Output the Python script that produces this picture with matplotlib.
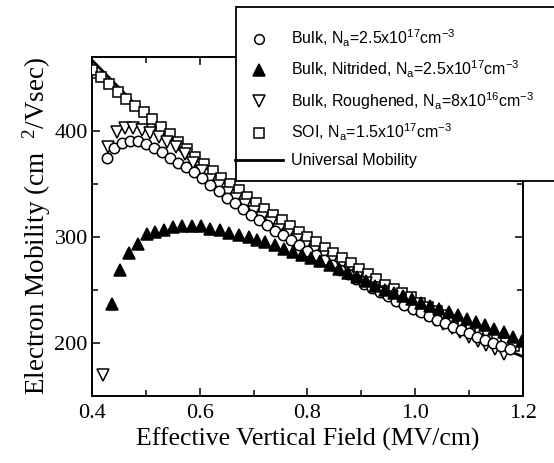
import matplotlib
matplotlib.use("Agg")
import matplotlib.pyplot as plt
from matplotlib.lines import Line2D
from matplotlib.patches import Rectangle

# ---------------- data ----------------
univ_x = [0.40, 0.50, 0.60, 0.70, 0.80, 0.90, 1.00, 1.10, 1.20]
univ_y = [467, 415, 363, 325, 292, 260, 232, 208, 187]

soi_x = [0.400, 0.416, 0.432, 0.448, 0.464, 0.480, 0.496, 0.512, 0.528, 0.544,
         0.560, 0.576, 0.592, 0.608, 0.624, 0.640, 0.656, 0.672, 0.688, 0.704,
         0.720, 0.736, 0.752, 0.768, 0.784, 0.800, 0.816, 0.832, 0.848, 0.864,
         0.880, 0.896, 0.912, 0.928, 0.944, 0.960, 0.976, 0.992, 1.008, 1.024,
         1.040, 1.056, 1.072, 1.088, 1.104, 1.120, 1.136, 1.152, 1.168, 1.184]
soi_y = [458, 451, 444, 437, 430, 424, 418, 411, 404, 397,
         390, 383, 376, 369, 362, 356, 350, 344, 338, 332,
         326, 321, 316, 310, 305, 300, 295, 290, 285, 280,
         275, 270, 265, 260, 255, 251, 247, 243, 238, 234,
         230, 226, 222, 218, 214, 211, 207, 204, 200, 197]

bulk_x = [0.427, 0.441, 0.455, 0.470, 0.485, 0.500, 0.515, 0.530, 0.545, 0.560,
          0.575, 0.590, 0.605, 0.620, 0.635, 0.650, 0.665, 0.680, 0.695, 0.710,
          0.725, 0.740, 0.755, 0.770, 0.785, 0.800, 0.815, 0.830, 0.845, 0.860,
          0.875, 0.890, 0.905, 0.920, 0.935, 0.950, 0.965, 0.980, 0.995, 1.010,
          1.025, 1.040, 1.055, 1.070, 1.085, 1.100, 1.115, 1.130, 1.145, 1.160,
          1.175]
bulk_y = [375, 384, 389, 391, 391, 388, 384, 380, 375, 370,
          366, 361, 356, 349, 343, 337, 332, 326, 321, 316,
          311, 306, 302, 297, 292, 287, 283, 278, 274, 269,
          265, 260, 256, 252, 248, 244, 240, 236, 232, 229,
          225, 222, 219, 215, 212, 209, 206, 203, 200, 197,
          194]

nit_x = [0.437, 0.452, 0.468, 0.485, 0.502, 0.517, 0.534, 0.551, 0.568, 0.585,
         0.603, 0.620, 0.638, 0.655, 0.672, 0.691, 0.706, 0.722, 0.739, 0.756,
         0.773, 0.790, 0.807, 0.824, 0.841, 0.858, 0.875, 0.892, 0.909, 0.926,
         0.943, 0.960, 0.977, 0.994, 1.011, 1.028, 1.045, 1.062, 1.079, 1.096,
         1.113, 1.130, 1.147, 1.164, 1.181, 1.198]
nit_y = [237, 269, 285, 293, 303, 305, 307, 309, 310, 310,
         310, 308, 307, 304, 302, 300, 297, 295, 292, 289,
         286, 283, 280, 277, 274, 270, 266, 262, 258, 254,
         250, 247, 244, 241, 238, 235, 232, 229, 226, 223,
         220, 217, 213, 210, 206, 202]

rough_x = [0.421, 0.430, 0.446, 0.461, 0.477, 0.492, 0.508, 0.524, 0.540, 0.556,
           0.572, 0.588, 0.604, 0.620, 0.636, 0.652, 0.668, 0.684, 0.700, 0.716,
           0.732, 0.748, 0.764, 0.780, 0.796, 0.812, 0.828, 0.844, 0.860, 0.876,
           0.892, 0.908, 0.924, 0.940, 0.956, 0.972, 0.988, 1.004, 1.020, 1.036,
           1.052, 1.068, 1.084, 1.100, 1.116, 1.132, 1.148, 1.164]
rough_y = [170, 385, 399, 403, 403, 401, 398, 394, 390, 385,
           378, 370, 362, 354, 348, 342, 336, 330, 324, 318,
           313, 307, 302, 297, 291, 286, 281, 276, 271, 266,
           261, 257, 252, 248, 243, 239, 235, 231, 226, 222,
           218, 214, 210, 206, 202, 198, 194, 190]

labels = [r"Bulk, N$_\mathregular{a}$=2.5x10$^\mathregular{17}$cm$^\mathregular{-3}$",
          r"Bulk, Nitrided, N$_\mathregular{a}$=2.5x10$^\mathregular{17}$cm$^\mathregular{-3}$",
          r"Bulk, Roughened, N$_\mathregular{a}$=8x10$^\mathregular{16}$cm$^\mathregular{-3}$",
          r"SOI, N$_\mathregular{a}$=1.5x10$^\mathregular{17}$cm$^\mathregular{-3}$",
          "Universal Mobility"]
x_ticks = [0.4, 0.6, 0.8, 1.0, 1.2]
x_ticklabels = ["0.4", "0.6", "0.8", "1.0", "1.2"]
y_ticks = [200, 300, 400]

# ---------------- figure ----------------
plt.rcParams["mathtext.default"] = "regular"
fig = plt.figure(figsize=(5.54, 4.63), dpi=100)
ax = fig.add_axes([0.166, 0.145, 0.778, 0.732])

mk = dict(linestyle="none", markeredgecolor="black", markeredgewidth=1.1)
ax.plot(univ_x, univ_y, color="black", lw=2.0, zorder=2)
ax.plot(soi_x, soi_y, marker="s", markersize=7, markerfacecolor="white", zorder=3, **mk)
ax.plot(rough_x, rough_y, marker="v", markersize=8, markerfacecolor="white", zorder=4, **mk)
ax.plot(bulk_x, bulk_y, marker="o", markersize=7.5, markerfacecolor="white", zorder=5, **mk)
ax.plot(nit_x, nit_y, marker="^", markersize=8.5, markerfacecolor="black", zorder=6, **mk)

ax.set_xlim(0.4, 1.2)
ax.set_ylim(150, 470)
ax.set_xticks(x_ticks)
ax.set_xticklabels(x_ticklabels)
ax.set_xticks([0.5, 0.7, 0.9, 1.1], minor=True)
ax.set_yticks(y_ticks)
ax.set_yticks([250, 350, 450], minor=True)
ax.tick_params(which="both", direction="in", top=True, right=True, width=1.1)
ax.tick_params(which="major", length=6)
ax.tick_params(which="minor", length=4)
for lab in ax.get_xticklabels() + ax.get_yticklabels():
    lab.set_family("Liberation Serif")
    lab.set_fontsize(16)
ax.tick_params(axis="x", pad=6)
ax.tick_params(axis="y", pad=3)
for s in ax.spines.values():
    s.set_linewidth(1.4)

ax.set_xlabel("Effective Vertical Field (MV/cm)", family="Liberation Serif", fontsize=18.5, labelpad=3)
ax.set_ylabel(r"Electron Mobility (cm  $^{2}$/Vsec)", family="Liberation Serif", fontsize=19.5, labelpad=1)

# legend box (extends past the right edge like the reference)
box = Rectangle((0.426, 0.609), 0.6, 0.376, transform=fig.transFigure,
                facecolor="white", edgecolor="black", lw=1.3, zorder=10, clip_on=False)
fig.patches.append(box)

handles = [
    Line2D([], [], marker="o", markersize=7, markerfacecolor="white", **mk),
    Line2D([], [], marker="^", markersize=8, markerfacecolor="black", **mk),
    Line2D([], [], marker="v", markersize=8, markerfacecolor="white", **mk),
    Line2D([], [], marker="s", markersize=7, markerfacecolor="white", **mk),
    Line2D([], [], color="black", lw=2.0),
]
leg = fig.legend(handles, labels, loc="upper left", bbox_to_anchor=(0.425, 0.94),
                 frameon=False, prop={"family": "Liberation Sans", "size": 11.5},
                 handlelength=3.0, handletextpad=0.5, labelspacing=0.62,
                 borderpad=0.0, borderaxespad=0.0)
leg.set_zorder(11)

fig.savefig("out.png", dpi=100)
